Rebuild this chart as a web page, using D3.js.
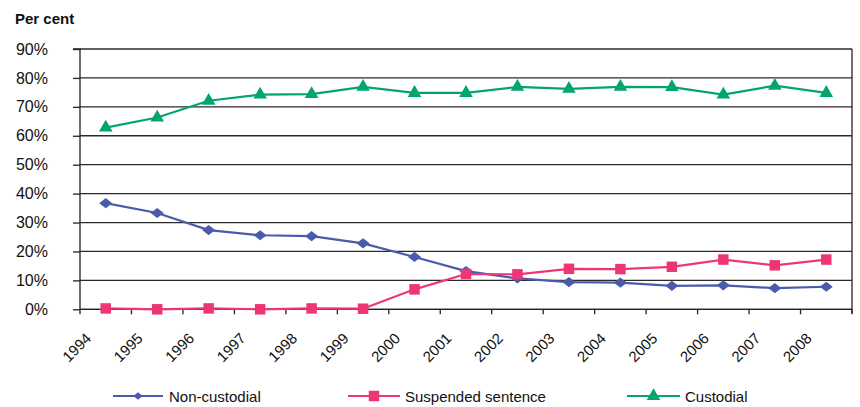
<!DOCTYPE html>
<html>
<head>
<meta charset="utf-8">
<script src="https://cdn.jsdelivr.net/npm/d3@7/dist/d3.min.js"></script>
<style>
  html, body { margin: 0; padding: 0; background: #fff; }
  svg { display: block; font-family: "Liberation Sans", Arial, Helvetica, sans-serif; }
</style>
</head>
<body>
<svg id="chart" width="860" height="407"></svg>
<script>
// Share of sentences by type, 1994–2008
const years = ["1994","1995","1996","1997","1998","1999","2000","2001","2002","2003","2004","2005","2006","2007","2008"];
const nonCustodial = [36.7, 33.3, 27.4, 25.6, 25.3, 22.8, 18.1, 13.2, 10.7, 9.4, 9.2, 8.1, 8.3, 7.3, 7.8];
const suspended    = [0.3, 0.0, 0.3, 0.0, 0.3, 0.2, 6.9, 12.2, 12.1, 14.0, 13.9, 14.7, 17.2, 15.2, 17.2];
const custodial    = [62.8, 66.3, 72.1, 74.2, 74.4, 76.9, 74.8, 74.8, 76.9, 76.2, 76.9, 76.8, 74.2, 77.3, 74.8];
const yTicks = [0, 10, 20, 30, 40, 50, 60, 70, 80, 90];
const seriesNames = ["Non-custodial", "Suspended sentence", "Custodial"];

// wide, flat diamond marker
const flatDiamond = {
  draw(ctx, size) {
    const w = Math.sqrt(size) * 0.75, h = w * 0.78;
    ctx.moveTo(-w, 0); ctx.lineTo(0, -h); ctx.lineTo(w, 0); ctx.lineTo(0, h); ctx.closePath();
  }
};

const series = [
  { name: seriesNames[0], values: nonCustodial, color: "#4a5bab", symbol: flatDiamond,      size: 76 },
  { name: seriesNames[1], values: suspended,    color: "#ee3676", symbol: d3.symbolSquare,   size: 110 },
  { name: seriesNames[2], values: custodial,    color: "#00a66b", symbol: d3.symbolTriangle, size: 80 }
];

const svg = d3.select("#chart");
const plot = { left: 80, right: 852, top: 49, bottom: 309.3 };

const x = d3.scaleBand().domain(years).range([plot.left, plot.right]).padding(0);
const y = d3.scaleLinear().domain([0, 90]).range([plot.bottom, plot.top]);
const xc = yr => x(yr) + x.bandwidth() / 2;

// title
svg.append("text")
  .attr("x", 15).attr("y", 24)
  .attr("font-size", 15).attr("font-weight", "bold").attr("fill", "#111")
  .text("Per cent");

// horizontal gridlines
svg.append("g").selectAll("line").data(yTicks).join("line")
  .attr("x1", plot.left).attr("x2", plot.right)
  .attr("y1", d => y(d)).attr("y2", d => y(d))
  .attr("stroke", "#2a2a2a").attr("stroke-width", 1.3);

// y axis
const yAxis = d3.axisLeft(y).tickValues(yTicks).tickFormat(d => d + "%").tickSize(7);
const gy = svg.append("g").attr("transform", `translate(${plot.left},0)`).call(yAxis);
gy.select(".domain").attr("stroke", "#222").attr("stroke-width", 1.3).attr("d", `M-7,${plot.top}H0V${plot.bottom}`);
gy.selectAll(".tick line").attr("stroke", "#222").attr("stroke-width", 1.3);
gy.selectAll(".tick text").attr("font-size", 16).attr("fill", "#111")
  .attr("font-family", "'Liberation Sans', Arial, sans-serif").attr("x", -32);

// right border
svg.append("line")
  .attr("x1", plot.right).attr("x2", plot.right)
  .attr("y1", plot.top).attr("y2", plot.bottom + 4)
  .attr("stroke", "#222").attr("stroke-width", 1.3);

// x axis: ticks at category boundaries
const bounds = years.map(yr => x(yr)).concat([plot.right]);
svg.append("g").selectAll("line").data(bounds).join("line")
  .attr("x1", d => d).attr("x2", d => d)
  .attr("y1", plot.bottom).attr("y2", plot.bottom + 5)
  .attr("stroke", "#222").attr("stroke-width", 1.3);
svg.append("line")
  .attr("x1", plot.left).attr("x2", plot.right)
  .attr("y1", plot.bottom).attr("y2", plot.bottom)
  .attr("stroke", "#222").attr("stroke-width", 1.3);

svg.append("g").selectAll("text").data(years).join("text")
  .attr("transform", d => `translate(${xc(d) - 13.5},${plot.bottom + 30}) rotate(-45)`)
  .attr("text-anchor", "end")
  .attr("font-size", 15).attr("fill", "#111")
  .text(d => d);

// series lines and markers
const line = d3.line().x((d, i) => xc(years[i])).y(d => y(d));
series.forEach(s => {
  svg.append("path")
    .datum(s.values)
    .attr("d", line)
    .attr("fill", "none")
    .attr("stroke", s.color)
    .attr("stroke-width", 2.2);
  svg.append("g").selectAll("path").data(s.values).join("path")
    .attr("transform", (d, i) => `translate(${xc(years[i])},${y(d)})`)
    .attr("d", d3.symbol().type(s.symbol).size(s.size))
    .attr("fill", s.color);
});

// legend
const legendItems = [
  { s: series[0], x0: 113, x1: 163, tx: 169 },
  { s: series[1], x0: 348, x1: 400, tx: 405 },
  { s: series[2], x0: 627, x1: 680, tx: 685 }
];
const ly = 396;
const lg = svg.append("g");
legendItems.forEach(it => {
  lg.append("line")
    .attr("x1", it.x0).attr("x2", it.x1).attr("y1", ly).attr("y2", ly)
    .attr("stroke", it.s.color).attr("stroke-width", 2.2);
  const sz = it.s.symbol === flatDiamond ? 40 : it.s.size;
  lg.append("path")
    .attr("transform", `translate(${(it.x0 + it.x1) / 2},${ly})`)
    .attr("d", d3.symbol().type(it.s.symbol).size(sz))
    .attr("fill", it.s.color);
  lg.append("text")
    .attr("x", it.tx).attr("y", ly + 6)
    .attr("font-size", 15).attr("fill", "#111")
    .text(it.s.name);
});
</script>
</body>
</html>
